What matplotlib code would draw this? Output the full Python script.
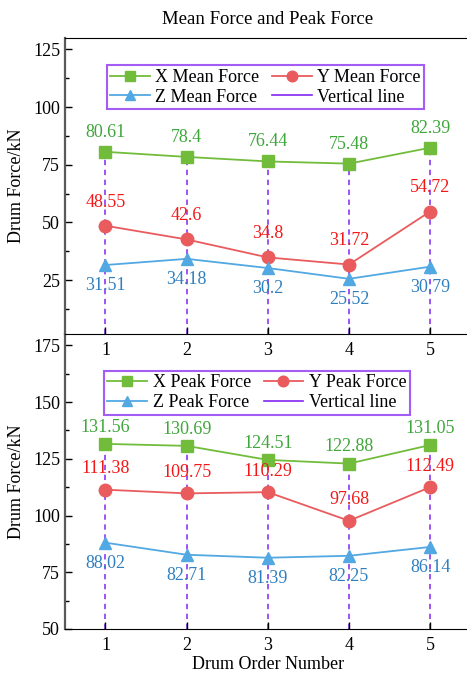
import matplotlib.pyplot as plt
from matplotlib.lines import Line2D
from matplotlib.ticker import AutoMinorLocator

plt.rcParams['font.family'] = ['Liberation Serif', 'DejaVu Serif']
plt.rcParams['mathtext.fontset'] = 'stix'

drum_order = [1, 2, 3, 4, 5]

x_mean = [80.61, 78.4, 76.44, 75.48, 82.39]
y_mean = [48.55, 42.6, 34.8, 31.72, 54.72]
z_mean = [31.51, 34.18, 30.2, 25.52, 30.79]

x_peak = [131.56, 130.69, 124.51, 122.88, 131.05]
y_peak = [111.38, 109.75, 110.29, 97.68, 112.49]
z_peak = [88.02, 82.71, 81.39, 82.25, 86.14]

line_green = '#72bc3c'
line_red = '#e95b5d'
line_blue = '#52a8e2'
text_green = '#3ea63a'
text_red = '#f31818'
text_blue = '#2f7fbf'
vline_color = '#8326f0'
legend_edge = '#a45cf5'


def draw_panel(ax, xs, ys, zs, name, ylim, yticks, offs):
    # dashed guide lines from the bottom of the panel up to the X marker
    for d, v in zip(drum_order, xs):
        ax.plot([d, d], [ylim[0], v], color=vline_color, lw=1.1,
                ls=(0, (3.5, 3)), zorder=1)
    hx, = ax.plot(drum_order, xs, color=line_green, marker='s', ms=8, lw=1.3,
                  zorder=3)
    hy, = ax.plot(drum_order, ys, color=line_red, marker='o', ms=9, lw=1.3,
                  zorder=3)
    hz, = ax.plot(drum_order, zs, color=line_blue, marker='^', ms=9, lw=1.3,
                  zorder=3)
    hv = Line2D([], [], color=vline_color, lw=1.2)

    for series, color, dy in ((xs, text_green, offs[0]),
                              (ys, text_red, offs[1]),
                              (zs, text_blue, offs[2])):
        for d, v in zip(drum_order, series):
            ax.annotate(f'{v:g}', (d, v), xytext=(0, dy),
                        textcoords='offset points', ha='center', va='center',
                        color=color, fontsize=13, zorder=4)

    ax.set_xlim(0.5, 5.5)
    ax.set_ylim(*ylim)
    ax.set_xticks(drum_order)
    ax.set_yticks(yticks)
    ax.yaxis.set_minor_locator(AutoMinorLocator(2))
    ax.tick_params(axis='both', which='major', direction='in', length=5,
                   width=1, labelsize=13)
    ax.tick_params(axis='y', which='minor', direction='in', length=3, width=1)
    ax.tick_params(axis='x', which='major', pad=6)
    ax.set_ylabel('Drum Force/kN', fontsize=13, labelpad=6)
    ax.spines['left'].set_color('#5a5a5a')
    ax.spines['left'].set_linewidth(1.6)
    ax.spines['right'].set_visible(False)

    # column-major fill, so this order reads X, Y / Z, Vertical row by row
    leg = ax.legend([hx, hz, hy, hv],
                    [f'X {name} Force', f'Z {name} Force',
                     f'Y {name} Force', 'Vertical line'],
                    ncol=2, fontsize=13, fancybox=False, framealpha=1,
                    loc='upper left', handlelength=2.2, handletextpad=0.3,
                    columnspacing=0.7, labelspacing=0.15, borderpad=0.2,
                    borderaxespad=0, markerscale=0.85)
    leg.get_frame().set_edgecolor(legend_edge)
    leg.get_frame().set_linewidth(1.5)
    return leg


fig = plt.figure(figsize=(4.67, 6.74), dpi=100)

ax_peak = fig.add_axes([0.139, 0.0668, 0.869, 0.4377])
ax_peak.set_facecolor('none')
ax_mean = fig.add_axes([0.139, 0.5045, 0.869, 0.4392])
ax_mean.set_facecolor('none')

leg_mean = draw_panel(ax_mean, x_mean, y_mean, z_mean, 'Mean', (1.6, 130),
                      [25, 50, 75, 100, 125], (14, 17, -15))
leg_mean.set_bbox_to_anchor((0.103, 0.907), transform=ax_mean.transAxes)
ax_mean.set_title('Mean Force and Peak Force', fontsize=13.5, pad=10)

leg_peak = draw_panel(ax_peak, x_peak, y_peak, z_peak, 'Peak', (50, 180),
                      [50, 75, 100, 125, 150, 175], (12, 15, -15))
leg_peak.set_bbox_to_anchor((0.096, 0.875), transform=ax_peak.transAxes)
ax_peak.spines['top'].set_visible(False)
ax_peak.set_xlabel('Drum Order Number', fontsize=13, labelpad=1)

fig.savefig('out.png', dpi=100)
